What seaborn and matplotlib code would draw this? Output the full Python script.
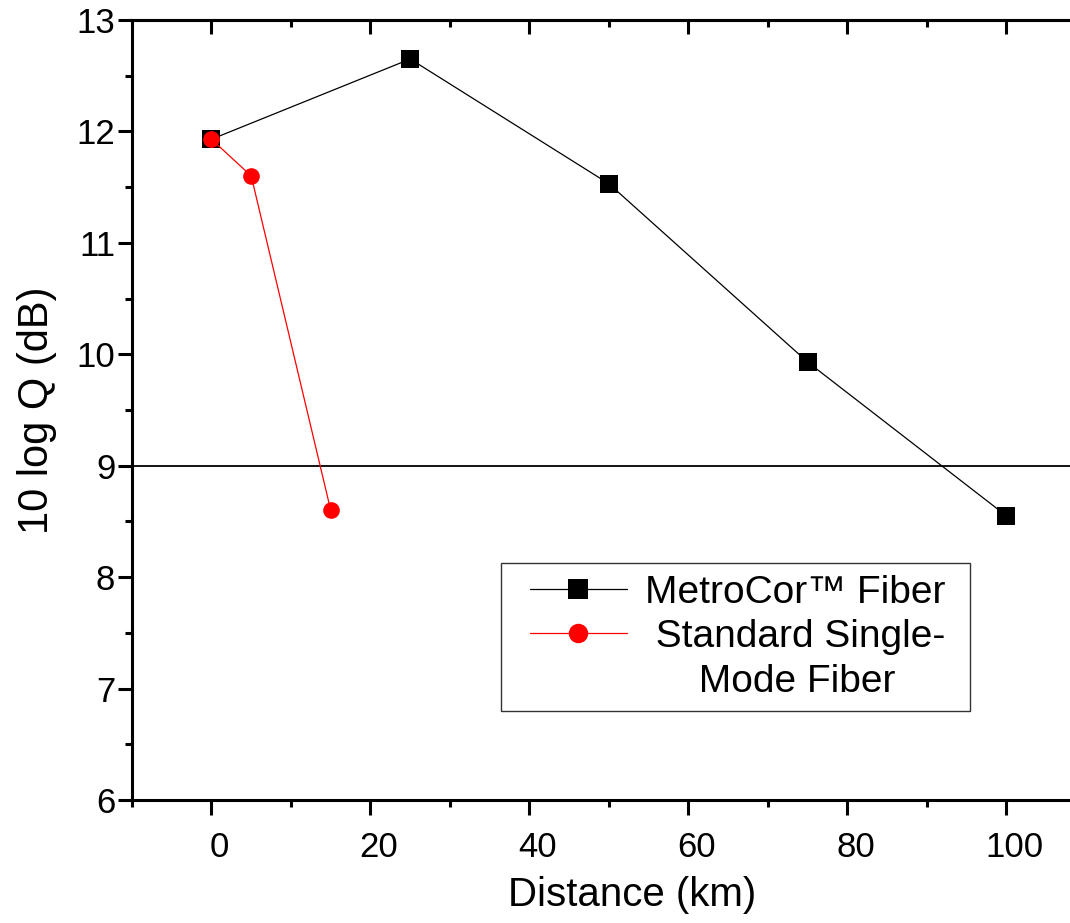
import numpy as np
import pandas as pd
import matplotlib
matplotlib.use("Agg")
import matplotlib.pyplot as plt
from matplotlib.lines import Line2D
from matplotlib.legend_handler import HandlerLine2D
from matplotlib.ticker import MultipleLocator
from matplotlib.transforms import ScaledTranslation
import seaborn as sns

# values
metrocor_km = [0, 25, 50, 75, 100]
metrocor_q = [11.93, 12.65, 11.53, 9.93, 8.55]
smf_km = [0, 5, 15]
smf_q = [11.93, 11.60, 8.60]
threshold_q = 9.0

labels = ["MetroCor\u2122 Fiber", " Standard Single-", "     Mode Fiber"]


class ShiftedLine(HandlerLine2D):
    # leave some blank room on the left of the legend handle
    def create_artists(self, legend, orig_handle, xdescent, ydescent,
                       width, height, fontsize, trans):
        shift = 0.45 * fontsize
        return super().create_artists(legend, orig_handle, xdescent - shift, ydescent,
                                      width - shift, height, fontsize, trans)


def main():
    sns.set_style("ticks")
    plt.rcParams["font.family"] = ["Liberation Sans", "DejaVu Sans"]
    plt.rcParams["text.color"] = "black"
    plt.rcParams["axes.labelcolor"] = "black"

    fig = plt.figure(figsize=(10.70, 9.23), dpi=100)
    ax = fig.add_axes([132 / 1070, 1 - 800 / 923, (1070 - 132) / 1070, 780 / 923])

    ax.axhline(threshold_q, color="black", lw=1.3, zorder=1)

    sns.lineplot(x=metrocor_km, y=metrocor_q, ax=ax, color="black", lw=0.9,
                 marker="s", markersize=13, markeredgewidth=0)
    sns.lineplot(x=smf_km, y=smf_q, ax=ax, color="red", lw=0.9,
                 marker="o", markersize=12, markeredgewidth=0)

    ax.set_xlim(-10, 108)
    ax.set_ylim(6, 13)
    ax.xaxis.set_major_locator(MultipleLocator(20))
    ax.xaxis.set_minor_locator(MultipleLocator(10))
    ax.yaxis.set_major_locator(MultipleLocator(1))
    ax.yaxis.set_minor_locator(MultipleLocator(0.5))

    for side in ["left", "bottom", "top"]:
        ax.spines[side].set_linewidth(2.2)
        ax.spines[side].set_color("black")
    ax.spines["right"].set_visible(False)

    ax.tick_params(axis="both", which="major", direction="out", length=10,
                   width=2.2, labelsize=25, colors="black")
    ax.tick_params(axis="both", which="minor", direction="out", length=5,
                   width=2.2, colors="black")
    ax.tick_params(axis="y", which="major", pad=2)
    ax.tick_params(axis="x", which="major", length=11, pad=11)
    ax.tick_params(axis="x", which="both", top=False)

    # x tick labels sit a little right of their ticks in the reference
    shift = ScaledTranslation(8 / 100, 0, fig.dpi_scale_trans)
    for lbl in ax.get_xticklabels():
        lbl.set_transform(lbl.get_transform() + shift)

    # top ticks point inward
    top = ax.secondary_xaxis("top")
    top.xaxis.set_major_locator(MultipleLocator(20))
    top.xaxis.set_minor_locator(MultipleLocator(10))
    top.tick_params(which="major", direction="in", length=10, width=2.2,
                    labeltop=False, colors="black")
    top.tick_params(which="minor", direction="in", length=5, width=2.2,
                    colors="black")
    top.spines["top"].set_linewidth(2.2)

    ax.set_xlabel("Distance (km)", fontsize=29)
    ax.set_ylabel("10 log Q (dB)", fontsize=30)
    ax.xaxis.set_label_coords(0.533, -0.097)
    ax.yaxis.set_label_coords(-0.08, 0.5)

    handles = [
        Line2D([], [], color="black", lw=0.9, marker="s", markersize=14, markeredgewidth=0),
        Line2D([], [], color="red", lw=0.9, marker="o", markersize=14, markeredgewidth=0),
        Line2D([], [], color="none", lw=0),
    ]
    leg = ax.legend(handles, labels, loc="upper left", bbox_to_anchor=(0.393, 0.0, 0.5, 0.304),
                    mode="expand", borderaxespad=0, fontsize=28, frameon=True,
                    fancybox=False, edgecolor="black", handlelength=2.95,
                    handletextpad=0.45, borderpad=0.3, labelspacing=0.22,
                    handler_map={Line2D: ShiftedLine()})
    leg.get_frame().set_linewidth(1.0)

    fig.savefig("out.png", dpi=100)
    plt.close(fig)


if __name__ == "__main__":
    main()
